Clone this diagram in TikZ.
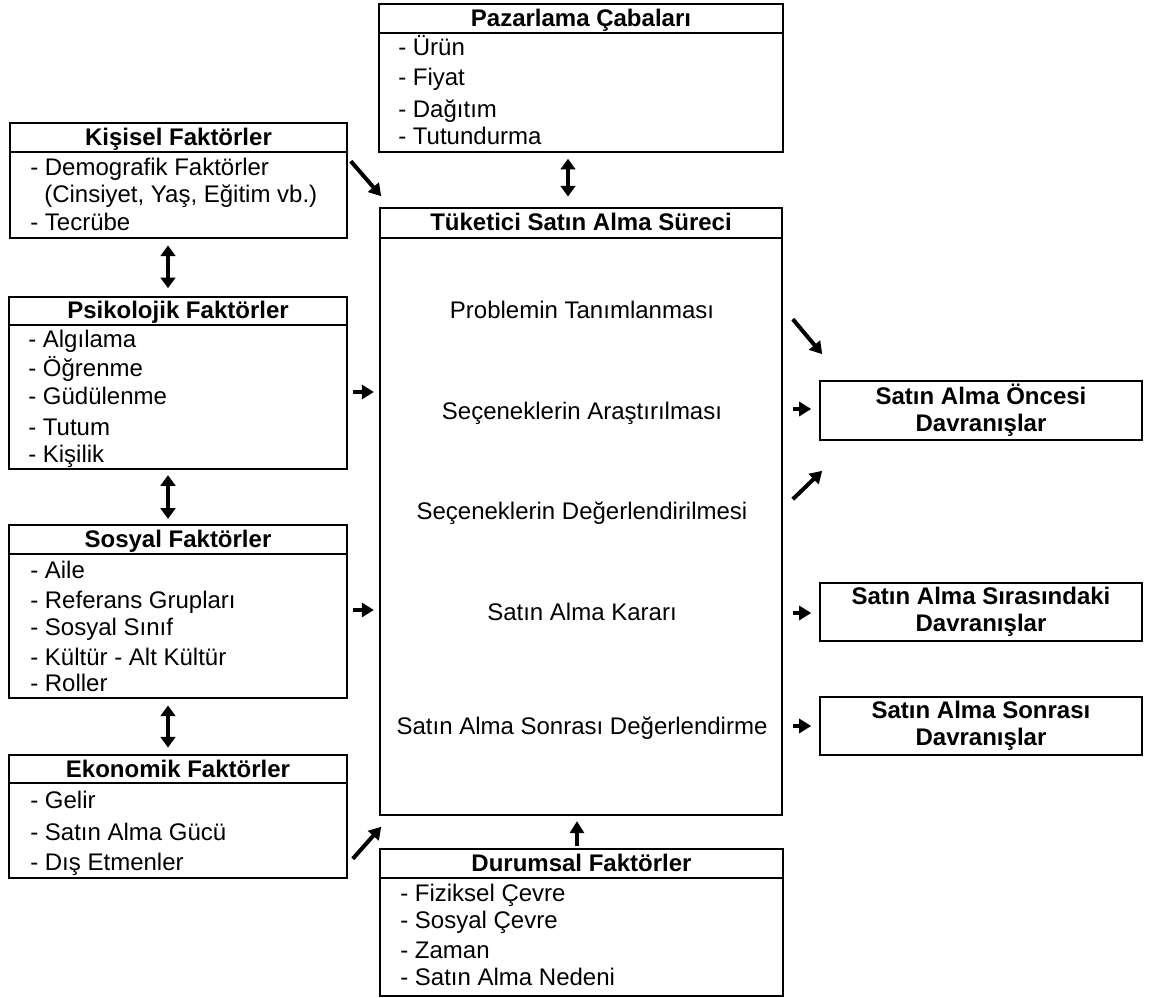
\documentclass[tikz,border=0pt]{standalone}
\usepackage{fontspec}
\setmainfont{Liberation Sans}
\usetikzlibrary{arrows.meta,fit}

\tikzset{
  box/.style={draw, line width=1.2pt, inner sep=0pt},
  head/.style={font=\fontsize{18}{20.5}\selectfont\bfseries, inner sep=0pt},
  item/.style={anchor=base west, inner sep=0pt},
  stage/.style={anchor=base, inner sep=0pt},
  arr/.style={line width=3pt, -{Triangle[length=9pt,width=10.5pt]}},
  darr/.style={line width=3pt, {Triangle[length=8pt,width=11pt]}-{Triangle[length=8pt,width=11pt]}},
}

\begin{document}
\begin{tikzpicture}[x=0.75pt,y=-0.75pt,font=\fontsize{18}{20.5}\selectfont]
\useasboundingbox (0,0) rectangle (1149,998);

% boxes with a title row
\foreach \n/\xa/\ya/\xb/\yb/\hl/\t in {%
  paz/379/4/783/152/33/Pazarlama Çabaları,
  tuk/380/208/782/815/238/Tüketici Satın Alma Süreci,
  kis/10/123/347/238/152/Kişisel Faktörler,
  psi/9/297/347/469/325/Psikolojik Faktörler,
  sos/9/525/347/698/554/Sosyal Faktörler,
  eko/9/755/347/878/783/Ekonomik Faktörler,
  dur/380/849/783/996/878/Durumsal Faktörler} {%
  \node[box, fit={(\xa,\ya) (\xb,\yb)}] (\n) {};
  \draw[line width=1.2pt] (\xa,\hl) -- (\xb,\hl);
  \node[head, anchor=base] (\n-h) at ({(\xa+\xb)/2},{(\ya+\hl)/2+8}) {\t};
}

\foreach \t/\y [count=\i] in {- Ürün/48,- Fiyat/78,- Dağıtım/110,- Tutundurma/137}
  \node[item] (paz-\i) at (398,\y+8) {\t};
\foreach \t/\x/\y [count=\i] in {- Demografik Faktörler/30/168,{(Cinsiyet, Yaş, Eğitim vb.)}/44/195,- Tecrübe/30/223}
  \node[item] (kis-\i) at (\x,\y+8) {\t};
\foreach \t/\y [count=\i] in {- Algılama/340,- Öğrenme/369,- Güdülenme/397,- Tutum/427,- Kişilik/454}
  \node[item] (psi-\i) at (28,\y+8) {\t};
\foreach \t/\y [count=\i] in {- Aile/570,- Referans Grupları/600,- Sosyal Sınıf/627,- Kültür - Alt Kültür/657,- Roller/683}
  \node[item] (sos-\i) at (30,\y+8) {\t};
\foreach \t/\y [count=\i] in {- Gelir/800,- Satın Alma Gücü/832,- Dış Etmenler/862}
  \node[item] (eko-\i) at (30,\y+8) {\t};
\foreach \t/\y [count=\i] in {- Fiziksel Çevre/893,- Sosyal Çevre/920,- Zaman/950,- Satın Alma Nedeni/977}
  \node[item] (dur-\i) at (400,\y+8) {\t};

% stages of the process
\foreach \t/\y [count=\i] in {Problemin Tanımlanması/311,Seçeneklerin Araştırılması/411,Seçeneklerin Değerlendirilmesi/511,Satın Alma Kararı/612,Satın Alma Sonrası Değerlendirme/726}
  \node[stage] (st-\i) at (582,\y+8) {\t};

% behaviour boxes
\node[box, fit={(820,381) (1142,440)}] (onc) {};
\node[head, align=center] (onc-h) at (onc) {Satın Alma Öncesi\\Davranışlar};
\node[box, fit={(820,583) (1142,641)}] (sir) {};
\node[head, align=center] (sir-h) at (sir) {Satın Alma Sırasındaki\\Davranışlar};
\node[box, fit={(820,697) (1142,755)}] (son) {};
\node[head, align=center] (son-h) at (son) {Satın Alma Sonrası\\Davranışlar};

% connectors
\draw[darr, shorten <=4.5pt, shorten >=8pt] (paz.south -| 568,0) -- (tuk.north -| 568,0);
\draw[darr, shorten <=5pt, shorten >=6pt] (kis.south -| 168,0) -- (psi.north -| 168,0);
\draw[darr, shorten <=4pt, shorten >=4pt] (psi.south -| 168,0) -- (sos.north -| 168,0);
\draw[darr, shorten <=5pt, shorten >=5pt] (sos.south -| 168,0) -- (eko.north -| 168,0);
\draw[arr] ([shift={(3,39)}]kis.north east) -- ([shift={(2,-11)}]tuk.north west);
\draw[arr, shorten <=4pt, shorten >=4pt] (psi.east |- 0,392) -- (tuk.west |- 0,392);
\draw[arr, shorten <=4pt, shorten >=4pt] (sos.east |- 0,610) -- (tuk.west |- 0,610);
\draw[arr] ([shift={(5,-20)}]eko.south east) -- ([shift={(2,11)}]tuk.south west);
\draw[arr, shorten <=2pt, shorten >=4pt] (dur.north -| 577,0) -- (tuk.south -| 577,0);
\draw[arr] ([shift={(10,112)}]tuk.north east) -- ([shift={(3,-26)}]onc.north west);
\draw[arr, shorten <=7.5pt, shorten >=6pt] (tuk.east |- 0,409) -- (onc.west |- 0,409);
\draw[arr] ([shift={(10,292)}]tuk.north east) -- ([shift={(3,30)}]onc.south west);
\draw[arr, shorten <=7.5pt, shorten >=6pt] (tuk.east |- 0,613) -- (sir.west |- 0,613);
\draw[arr, shorten <=7.5pt, shorten >=6pt] (tuk.east |- 0,726) -- (son.west |- 0,726);
\end{tikzpicture}
\end{document}
